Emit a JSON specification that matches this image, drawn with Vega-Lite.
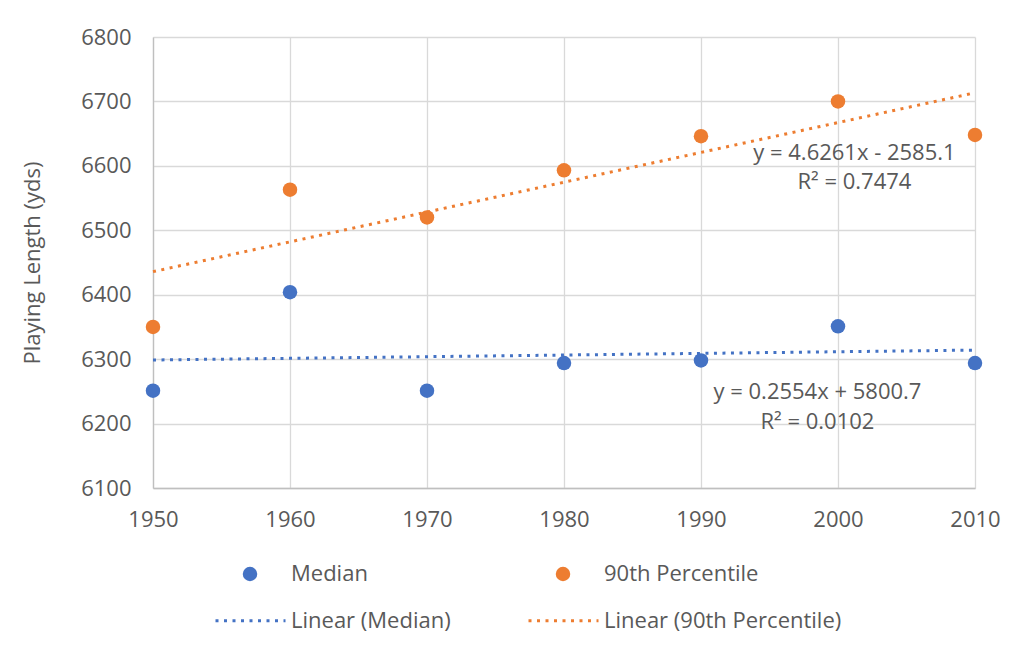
{
  "$schema": "https://vega.github.io/schema/vega-lite/v6.json",
  "width": 822,
  "height": 451,
  "autosize": {"type": "none"},
  "padding": {"left": 153, "top": 37, "right": 43, "bottom": 162},
  "background": "white",
  "config": {
    "font": "Open Sans",
    "view": {"stroke": null},
    "axis": {
      "labelFont": "Open Sans",
      "labelFontSize": 22,
      "labelColor": "#595959",
      "titleFont": "Open Sans",
      "titleFontSize": 22,
      "titleFontWeight": "normal",
      "titleColor": "#595959",
      "gridColor": "#d9d9d9",
      "gridWidth": 1.3,
      "domainColor": "#bfbfbf",
      "domainWidth": 1.3,
      "ticks": false
    },
    "legend": {
      "labelFont": "Open Sans",
      "labelFontSize": 22,
      "labelColor": "#595959",
      "labelLimit": 400
    }
  },
  "datasets": {
    "points": [
      {"year": 1950, "value": 6251, "series": "Median"},
      {"year": 1960, "value": 6404, "series": "Median"},
      {"year": 1970, "value": 6251, "series": "Median"},
      {"year": 1980, "value": 6294, "series": "Median"},
      {"year": 1990, "value": 6298, "series": "Median"},
      {"year": 2000, "value": 6351, "series": "Median"},
      {"year": 2010, "value": 6294, "series": "Median"},
      {"year": 1950, "value": 6350, "series": "90th Percentile"},
      {"year": 1960, "value": 6563, "series": "90th Percentile"},
      {"year": 1970, "value": 6520, "series": "90th Percentile"},
      {"year": 1980, "value": 6593, "series": "90th Percentile"},
      {"year": 1990, "value": 6646, "series": "90th Percentile"},
      {"year": 2000, "value": 6700, "series": "90th Percentile"},
      {"year": 2010, "value": 6648, "series": "90th Percentile"}
    ],
    "trends": [
      {"year": 1950, "value": 6298.7, "series": "Linear (Median)"},
      {"year": 2010, "value": 6314.05, "series": "Linear (Median)"},
      {"year": 1950, "value": 6435.8, "series": "Linear (90th Percentile)"},
      {"year": 2010, "value": 6713.4, "series": "Linear (90th Percentile)"}
    ],
    "labels": [
      {"year": 2001.2, "value": 6620, "label": "y = 4.6261x - 2585.1"},
      {"year": 2001.2, "value": 6575, "label": "R² = 0.7474"},
      {"year": 1998.5, "value": 6249, "label": "y = 0.2554x + 5800.7"},
      {"year": 1998.5, "value": 6202, "label": "R² = 0.0102"}
    ]
  },
  "encoding": {
    "x": {
      "field": "year",
      "type": "quantitative",
      "scale": {"domain": [1950, 2010], "nice": false, "zero": false},
      "axis": {"title": null, "values": [1950, 1960, 1970, 1980, 1990, 2000, 2010], "format": "d", "labelPadding": 21, "grid": true, "labelFlush": false}
    },
    "y": {
      "field": "value",
      "type": "quantitative",
      "scale": {"domain": [6100, 6800], "nice": false, "zero": false},
      "axis": {"title": "Playing Length (yds)", "values": [6100, 6200, 6300, 6400, 6500, 6600, 6700, 6800], "format": "d", "labelPadding": 22, "titlePadding": 36, "grid": true}
    }
  },
  "layer": [
    {
      "data": {"name": "trends"},
      "mark": {"type": "line", "strokeWidth": 3, "strokeDash": [3, 5.5]},
      "encoding": {
        "stroke": {
          "field": "series",
          "type": "nominal",
          "scale": {
            "domain": ["Linear (Median)", "Linear (90th Percentile)"],
            "range": ["#4472C4", "#ED7D31"]
          },
          "legend": {
            "title": null,
            "orient": "none",
            "direction": "horizontal",
            "legendX": 61,
            "legendY": 547,
            "columnPadding": 71,
            "labelOffset": 4,
            "symbolType": "stroke",
            "symbolSize": 4900,
            "symbolStrokeWidth": 3,
            "symbolDash": [3, 5.5]
          }
        }
      }
    },
    {
      "data": {"name": "points"},
      "mark": {"type": "point", "filled": true, "size": 210, "opacity": 1},
      "encoding": {
        "fill": {
          "field": "series",
          "type": "nominal",
          "scale": {
            "domain": ["Median", "90th Percentile"],
            "range": ["#4472C4", "#ED7D31"]
          },
          "legend": {
            "title": null,
            "orient": "none",
            "direction": "horizontal",
            "legendX": 86,
            "legendY": 526,
            "columnPadding": 184,
            "labelOffset": 30,
            "symbolType": "circle",
            "symbolSize": 210,
            "symbolOpacity": 1,
            "symbolStrokeWidth": 0
          }
        }
      }
    },
    {
      "data": {"name": "labels"},
      "mark": {"type": "text", "font": "Open Sans", "fontSize": 22, "color": "#595959", "align": "center", "baseline": "middle"},
      "encoding": {
        "text": {"field": "label"}
      }
    }
  ]
}
